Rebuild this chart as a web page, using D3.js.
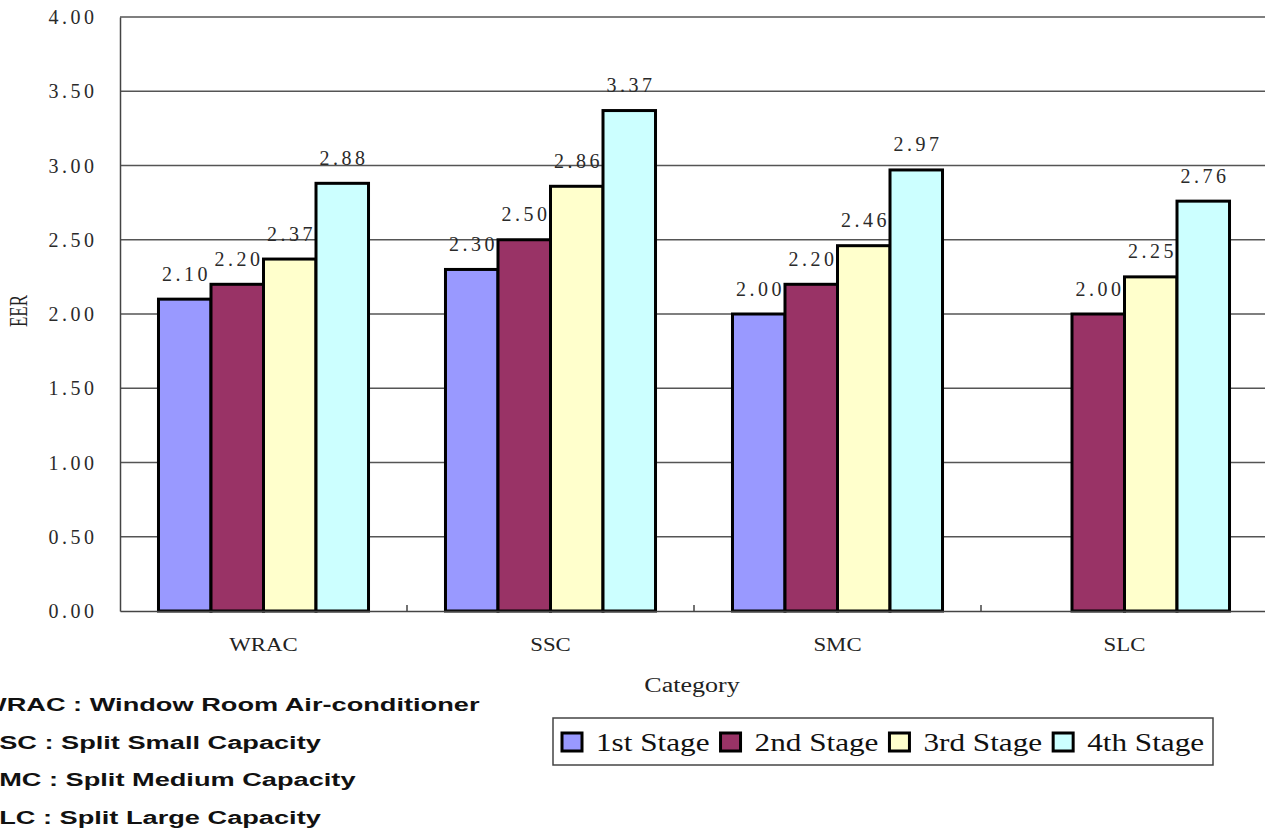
<!DOCTYPE html>
<html>
<head>
<meta charset="utf-8">
<script src="https://cdn.jsdelivr.net/npm/d3@7"></script>
<style>
  html, body { margin: 0; padding: 0; background: #fff; overflow: hidden; }
  svg { display: block; }
</style>
</head>
<body>
<svg id="chart" width="1265" height="830"></svg>
<script>
// EER by air-conditioner category and efficiency stage
const categories = ["WRAC", "SSC", "SMC", "SLC"];
const stages = ["1st Stage", "2nd Stage", "3rd Stage", "4th Stage"];
const stage1 = [2.10, 2.30, 2.00, null];
const stage2 = [2.20, 2.50, 2.20, 2.00];
const stage3 = [2.37, 2.86, 2.46, 2.25];
const stage4 = [2.88, 3.37, 2.97, 2.76];
const yTicks = [0, 0.5, 1.0, 1.5, 2.0, 2.5, 3.0, 3.5, 4.0];
const notes = [
  "WRAC : Window Room Air-conditioner",
  "SSC : Split Small Capacity",
  "SMC : Split Medium Capacity",
  "SLC : Split Large Capacity"
];
const stageColors = ["#9999FF", "#993366", "#FFFFCC", "#CCFFFF"];

const seriesValues = [stage1, stage2, stage3, stage4];
const rows = [];
categories.forEach((c, ci) => {
  stages.forEach((s, si) => {
    const v = seriesValues[si][ci];
    if (v !== null) rows.push({ category: c, stage: s, value: v });
  });
});

const svg = d3.select("#chart");
const serif = "'Liberation Serif', 'Times New Roman', serif";

// stretch text horizontally by factor k
function stretch(sel, k, adjust) {
  sel.each(function () {
    const w = this.getComputedTextLength();
    d3.select(this).attr("textLength", w * k).attr("lengthAdjust", adjust || "spacingAndGlyphs");
  });
}

const plot = { left: 120, right: 1268, top: 17, bottom: 611 };

const x0 = d3.scaleBand().domain(categories).range([plot.left, plot.right]).paddingInner(0).paddingOuter(0);
const x1 = d3.scaleBand().domain(stages).range([0, x0.bandwidth()]).paddingInner(0).paddingOuter(0.733);
const y = d3.scaleLinear().domain([0, 4]).range([plot.bottom, plot.top]);
const color = d3.scaleOrdinal().domain(stages).range(stageColors);

// horizontal gridlines
svg.append("g")
  .selectAll("line")
  .data(yTicks.filter(t => t > 0))
  .join("line")
  .attr("x1", plot.left).attr("x2", plot.right)
  .attr("y1", d => y(d)).attr("y2", d => y(d))
  .attr("stroke", "#555").attr("stroke-width", 1.5);

// y axis
const yAxis = svg.append("g")
  .attr("transform", `translate(${plot.left},0)`)
  .attr("font-family", serif)
  .call(d3.axisLeft(y).tickValues(yTicks).tickFormat(d3.format(".2f")).tickSize(0).tickPadding(26));
yAxis.select(".domain").attr("stroke", "#444").attr("stroke-width", 1.5);
yAxis.selectAll("text")
  .attr("font-family", serif).attr("font-size", 20).attr("fill", "#2a2a2a")
  .attr("dy", "0.33em");
stretch(yAxis.selectAll("text"), 1.3, "spacing");

// bars
svg.append("g")
  .selectAll("rect")
  .data(rows)
  .join("rect")
  .attr("x", d => x0(d.category) + x1(d.stage))
  .attr("y", d => y(d.value))
  .attr("width", x1.bandwidth())
  .attr("height", d => y(0) - y(d.value))
  .attr("fill", d => color(d.stage))
  .attr("stroke", "#000").attr("stroke-width", 3);

// value labels
const valLabels = svg.append("g")
  .selectAll("text")
  .data(rows)
  .join("text")
  .attr("x", d => x0(d.category) + x1(d.stage) + x1.bandwidth() / 2)
  .attr("y", d => y(d.value) - 18.5)
  .attr("text-anchor", "middle")
  .attr("font-family", serif).attr("font-size", 20).attr("fill", "#2a2a2a")
  .text(d => d3.format(".2f")(d.value));
stretch(valLabels, 1.3, "spacing");

// x axis
const xAxis = svg.append("g")
  .attr("transform", `translate(0,${plot.bottom})`)
  .attr("font-family", serif)
  .call(d3.axisBottom(x0).tickSize(0).tickPadding(27));
xAxis.select(".domain").attr("stroke", "#444").attr("stroke-width", 1.5);
xAxis.selectAll("text")
  .attr("font-family", serif).attr("font-size", 19).attr("fill", "#222").attr("dy", "0.71em");
stretch(xAxis.selectAll("text"), 1.2);

// category boundary ticks
svg.append("g")
  .selectAll("line")
  .data(categories.slice(1))
  .join("line")
  .attr("x1", d => x0(d)).attr("x2", d => x0(d))
  .attr("y1", plot.bottom).attr("y2", plot.bottom - 6)
  .attr("stroke", "#444").attr("stroke-width", 1.5);

// axis titles
const xTitle = svg.append("text")
  .attr("x", 692).attr("y", 692)
  .attr("text-anchor", "middle")
  .attr("font-family", serif).attr("font-size", 20).attr("fill", "#222")
  .text("Category");
stretch(xTitle, 1.3);

svg.append("text")
  .attr("transform", "translate(27,311) rotate(-90) scale(1,1.5)")
  .attr("text-anchor", "middle")
  .attr("font-family", serif).attr("font-size", 17).attr("fill", "#222")
  .text("EER");

// legend
const legend = svg.append("g");
legend.append("rect")
  .attr("x", 553).attr("y", 718).attr("width", 660).attr("height", 47)
  .attr("fill", "#fff").attr("stroke", "#444").attr("stroke-width", 1.5);
let lx = 562;
stages.forEach(s => {
  legend.append("rect")
    .attr("x", lx).attr("y", 733).attr("width", 20).attr("height", 18)
    .attr("fill", color(s)).attr("stroke", "#000").attr("stroke-width", 3);
  const t = legend.append("text")
    .attr("x", lx + 34).attr("y", 751)
    .attr("font-family", serif).attr("font-size", 26).attr("fill", "#111")
    .text(s);
  stretch(t, 1.2);
  lx = lx + 34 + +t.attr("textLength") + 11;
});

// abbreviation notes, running off the left edge of the page
svg.append("g")
  .selectAll("text")
  .data(notes)
  .join("text")
  .attr("x", -19)
  .attr("y", (d, i) => 711 + i * 37.7)
  .attr("font-family", "'Liberation Sans', Arial, sans-serif")
  .attr("font-weight", "bold").attr("font-size", 18).attr("fill", "#111")
  .text(d => d)
  .call(sel => stretch(sel, 1.51));
</script>
</body>
</html>
